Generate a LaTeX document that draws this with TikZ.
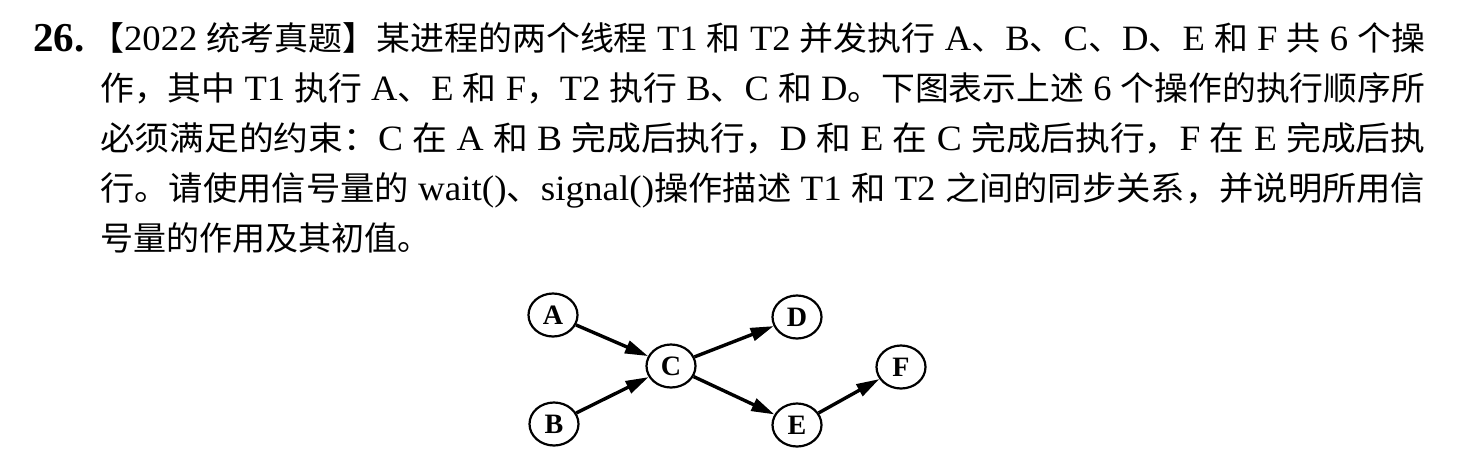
\documentclass[tikz,border=0pt]{standalone}
\usepackage{fontspec}
\usepackage{graphicx}
\setmainfont{Liberation Serif}[Scale=1.08]
\newfontfamily\cjk{Noto Sans CJK SC}
\newcommand{\zh}[1]{{\cjk #1}}
\usetikzlibrary{arrows.meta,shapes.geometric}
\tikzset{
  txtline/.style={anchor=base west, inner sep=0pt, font=\fontsize{33}{40}\selectfont},
  opnode/.style={ellipse, draw, line width=2.2pt, minimum width=49pt, minimum height=43pt, inner sep=0pt, font=\fontsize{26}{30}\selectfont\bfseries},
  dep/.style={line width=3.4pt, -{Triangle[length=23pt,width=13pt]}}
}
\begin{document}
\begin{tikzpicture}[x=1pt,y=-1pt]
\useasboundingbox[fill=white] (0,0) rectangle (1464,472);
% text
\node[txtline, font=\fontsize{38}{40}\selectfont] (n26) at (33,51) {\textbf{26.}};
\node[txtline] (l1) at (90,50) {\resizebox{1335pt}{\height}{\zh{【}2022 \zh{统考真题】某进程的两个线程} T1 \zh{和} T2 \zh{并发执行} A\zh{、}B\zh{、}C\zh{、}D\zh{、}E \zh{和} F \zh{共} 6 \zh{个操}}};
\node[txtline] (l2) at (100,100) {\resizebox{1325pt}{\height}{\zh{作，其中} T1 \zh{执行} A\zh{、}E \zh{和} F\zh{，}T2 \zh{执行} B\zh{、}C \zh{和} D\zh{。下图表示上述} 6 \zh{个操作的执行顺序所}}};
\node[txtline] (l3) at (100,150) {\resizebox{1325pt}{\height}{\zh{必须满足的约束：}C \zh{在} A \zh{和} B \zh{完成后执行，}D \zh{和} E \zh{在} C \zh{完成后执行，}F \zh{在} E \zh{完成后执}}};
\node[txtline] (l4) at (100,200) {\resizebox{1325pt}{\height}{\zh{行。请使用信号量的} wait()\zh{、}signal()\zh{操作描述} T1 \zh{和} T2 \zh{之间的同步关系，并说明所用信}}};
\node[txtline] (l5) at (100,250) {\zh{号量的作用及其初值。}};
% diagram
\node[opnode] (A) at (553,315) {A};
\node[opnode] (B) at (554,424) {B};
\node[opnode] (C) at (671,366) {C};
\node[opnode] (D) at (797,317) {D};
\node[opnode] (E) at (797,425) {E};
\node[opnode] (F) at (901,367) {F};
\draw[dep] (A) -- (C);
\draw[dep] (B) -- (C);
\draw[dep] (C) -- (D);
\draw[dep] (C) -- (E);
\draw[dep] (E) -- (F);
\end{tikzpicture}
\end{document}
